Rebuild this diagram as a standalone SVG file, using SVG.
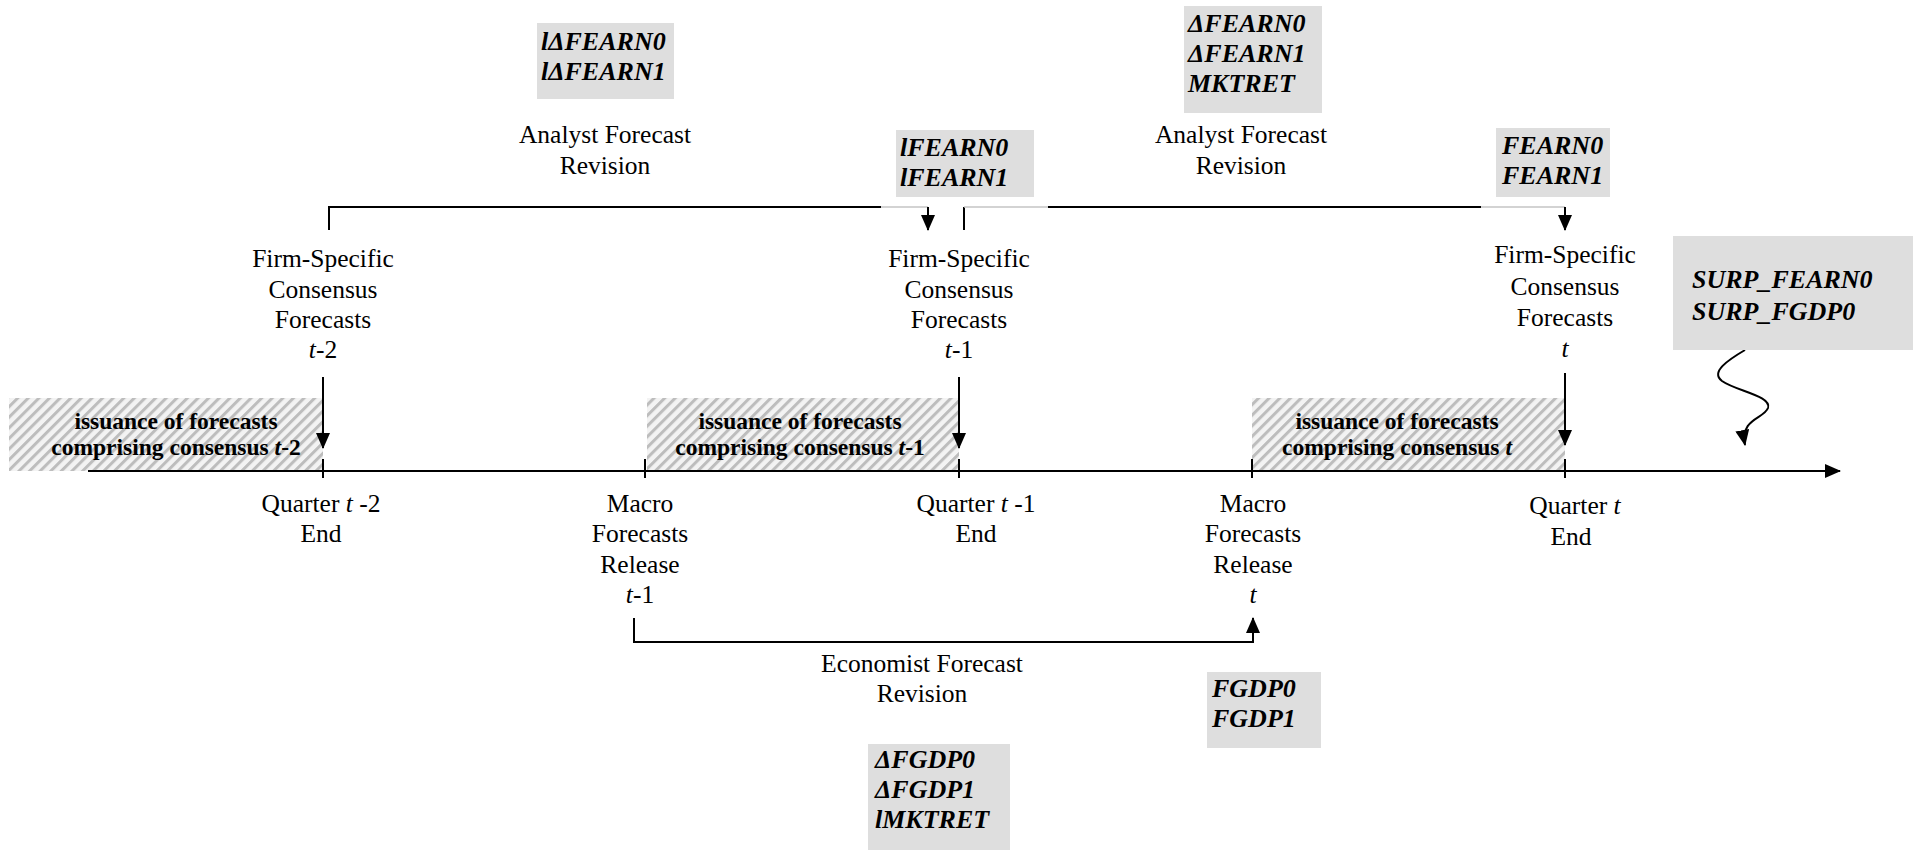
<svg xmlns="http://www.w3.org/2000/svg" width="1913" height="850" viewBox="0 0 1913 850">
<defs>
<style>
.t{font-family:"Liberation Serif","Times New Roman",serif;font-size:25.5px;fill:#000;text-anchor:middle}
.v{font-family:"Liberation Serif","Times New Roman",serif;font-size:26px;font-weight:bold;font-style:italic;fill:#000}
.h{font-family:"Liberation Serif","Times New Roman",serif;font-size:23.5px;font-weight:bold;fill:#000;text-anchor:middle}
.i{font-style:italic}
.box{fill:#dedede}
.ln{fill:none;stroke:#000;stroke-width:2}
.lt{fill:none;stroke:#c4c4c4;stroke-width:1.3}
.ar{fill:none;stroke:#000;stroke-width:2;marker-end:url(#ah)}
</style>
<marker id="ah" viewBox="0 0 16 14" refX="15" refY="7" markerWidth="16" markerHeight="14" orient="auto" markerUnits="userSpaceOnUse">
<path d="M0,0 L16,7 L0,14 z" fill="#000"/>
</marker>
<pattern id="hatch" patternUnits="userSpaceOnUse" width="7.5" height="7.5" patternTransform="rotate(45)">
<rect width="7.5" height="7.5" fill="#f3f3f3"/>
<rect width="3" height="7.5" fill="#bdbdbd"/>
</pattern>
</defs>
<rect width="1913" height="850" fill="#fff"/>

<g id="hatches">
<rect x="9" y="398" width="314" height="73" fill="url(#hatch)"/>
<rect x="647" y="398" width="312" height="73" fill="url(#hatch)"/>
<rect x="1252" y="398" width="313" height="73" fill="url(#hatch)"/>
<text class="h" x="176" y="429">issuance of forecasts</text>
<text class="h" x="176" y="455">comprising consensus <tspan class="i">t</tspan>-2</text>
<text class="h" x="800" y="429">issuance of forecasts</text>
<text class="h" x="800" y="455">comprising consensus <tspan class="i">t</tspan>-1</text>
<text class="h" x="1397" y="429">issuance of forecasts</text>
<text class="h" x="1397" y="455">comprising consensus <tspan class="i">t</tspan></text>
</g>

<g id="connectors">
<path class="ln" d="M88,471 H1840" marker-end="url(#ah)"/>
<path class="ln" d="M323,459 V478 M645,459 V478 M959,459 V478 M1252,459 V478 M1565,459 V478"/>
<path class="ar" d="M323,377 V448"/>
<path class="ar" d="M959,377 V448"/>
<path class="ar" d="M1565,373 V445"/>
<path class="ln" d="M329,230 V207 H881"/>
<path class="lt" d="M881,207 H928"/>
<path class="ar" d="M928,207 V230"/>
<path class="ln" d="M964,230 V207"/>
<path class="lt" d="M964,207 H1048"/>
<path class="ln" d="M1048,207 H1481"/>
<path class="lt" d="M1481,207 H1565"/>
<path class="ar" d="M1565,207 V230"/>
<path class="ar" d="M634,618 V642 H1253 V618"/>
<path class="ar" d="M1745,350 C1728,360 1710,372 1722,381 C1736,391 1772,396 1768,408 C1764,419 1740,418 1745,445"/>
</g>

<g id="box-ldfearn">
<rect class="box" x="537" y="23" width="137" height="76"/>
<text class="v" x="541" y="50">lΔFEARN0</text>
<text class="v" x="541" y="80">lΔFEARN1</text>
</g>
<g id="afr-left">
<text class="t" x="605" y="143">Analyst Forecast</text>
<text class="t" x="605" y="174">Revision</text>
</g>
<g id="box-lfearn">
<rect class="box" x="896" y="130" width="138" height="67"/>
<text class="v" x="900" y="156">lFEARN0</text>
<text class="v" x="900" y="186">lFEARN1</text>
</g>
<g id="box-dfearn">
<rect class="box" x="1184" y="6" width="138" height="107"/>
<text class="v" x="1188" y="32">ΔFEARN0</text>
<text class="v" x="1188" y="62">ΔFEARN1</text>
<text class="v" x="1188" y="92">MKTRET</text>
</g>
<g id="afr-right">
<text class="t" x="1241" y="143">Analyst Forecast</text>
<text class="t" x="1241" y="174">Revision</text>
</g>
<g id="box-fearn">
<rect class="box" x="1496" y="128" width="114" height="69"/>
<text class="v" x="1502" y="154">FEARN0</text>
<text class="v" x="1502" y="184">FEARN1</text>
</g>
<g id="box-surp">
<rect class="box" x="1673" y="236" width="240" height="114"/>
<text class="v" x="1692" y="288">SURP_FEARN0</text>
<text class="v" x="1692" y="320">SURP_FGDP0</text>
</g>

<g id="fsc-t2">
<text class="t" x="323" y="267">Firm-Specific</text>
<text class="t" x="323" y="298">Consensus</text>
<text class="t" x="323" y="328">Forecasts</text>
<text class="t" x="323" y="358"><tspan class="i">t</tspan>-2</text>
</g>
<g id="fsc-t1">
<text class="t" x="959" y="267">Firm-Specific</text>
<text class="t" x="959" y="298">Consensus</text>
<text class="t" x="959" y="328">Forecasts</text>
<text class="t" x="959" y="358"><tspan class="i">t</tspan>-1</text>
</g>
<g id="fsc-t">
<text class="t" x="1565" y="263">Firm-Specific</text>
<text class="t" x="1565" y="295">Consensus</text>
<text class="t" x="1565" y="326">Forecasts</text>
<text class="t" x="1565" y="357"><tspan class="i">t</tspan></text>
</g>

<g id="q-t2">
<text class="t" x="321" y="512">Quarter <tspan class="i">t</tspan> -2</text>
<text class="t" x="321" y="542">End</text>
</g>
<g id="macro-t1">
<text class="t" x="640" y="512">Macro</text>
<text class="t" x="640" y="542">Forecasts</text>
<text class="t" x="640" y="573">Release</text>
<text class="t" x="640" y="603"><tspan class="i">t</tspan>-1</text>
</g>
<g id="q-t1">
<text class="t" x="976" y="512">Quarter <tspan class="i">t</tspan> -1</text>
<text class="t" x="976" y="542">End</text>
</g>
<g id="macro-t">
<text class="t" x="1253" y="512">Macro</text>
<text class="t" x="1253" y="542">Forecasts</text>
<text class="t" x="1253" y="573">Release</text>
<text class="t" x="1253" y="603"><tspan class="i">t</tspan></text>
</g>
<g id="q-t">
<text class="t" x="1575" y="514">Quarter <tspan class="i">t</tspan></text>
<text class="t" x="1571" y="545">End</text>
</g>

<g id="efr">
<text class="t" x="922" y="672">Economist Forecast</text>
<text class="t" x="922" y="702">Revision</text>
</g>
<g id="box-fgdp">
<rect class="box" x="1207" y="672" width="114" height="76"/>
<text class="v" x="1212" y="697">FGDP0</text>
<text class="v" x="1212" y="727">FGDP1</text>
</g>
<g id="box-dfgdp">
<rect class="box" x="868" y="744" width="142" height="106"/>
<text class="v" x="875" y="768">ΔFGDP0</text>
<text class="v" x="875" y="798">ΔFGDP1</text>
<text class="v" x="875" y="828">lMKTRET</text>
</g>
</svg>
